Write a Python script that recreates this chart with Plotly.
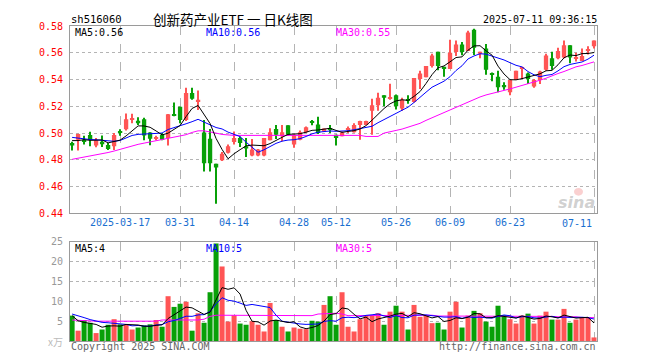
import plotly.graph_objects as go
import pandas as pd

# ---------------- data ----------------
opens = [0.4926, 0.4951, 0.4951, 0.4985, 0.4907, 0.4936, 0.4912, 0.4902, 0.5012, 0.5029,
         0.5098, 0.5093, 0.5103, 0.5005, 0.4963, 0.4985, 0.4963, 0.5142, 0.5196, 0.5098,
         0.5300, 0.5238, 0.5005, 0.4958, 0.4772, 0.4797, 0.4853, 0.4934, 0.4963, 0.4902,
         0.4833, 0.4833, 0.4833, 0.4946, 0.5030, 0.4976, 0.5059, 0.4914, 0.4951, 0.5007,
         0.5078, 0.5064, 0.5012, 0.5030, 0.4988, 0.4976, 0.5030, 0.5007, 0.5061, 0.5061,
         0.5167, 0.5208, 0.5282, 0.5262, 0.5282, 0.5184, 0.5247, 0.5233, 0.5404, 0.5417,
         0.5502, 0.5608, 0.5495, 0.5478, 0.5605, 0.5662, 0.5613, 0.5772, 0.5593, 0.5632,
         0.5443, 0.5421, 0.5360, 0.5306, 0.5397, 0.5483, 0.5446, 0.5348, 0.5397, 0.5473,
         0.5559, 0.5559, 0.5564, 0.5657, 0.5554, 0.5539, 0.5615, 0.5649]
highs = [0.4935, 0.4995, 0.4980, 0.5010, 0.4963, 0.4983, 0.4926, 0.5000, 0.5029, 0.5147,
         0.5145, 0.5118, 0.5115, 0.5007, 0.4980, 0.5000, 0.5142, 0.5228, 0.5196, 0.5338,
         0.5338, 0.5318, 0.5098, 0.5030, 0.4772, 0.4858, 0.4914, 0.5012, 0.4975, 0.4963,
         0.4956, 0.4882, 0.4963, 0.5037, 0.5061, 0.5061, 0.5059, 0.4990, 0.5020, 0.5049,
         0.5098, 0.5123, 0.5034, 0.5061, 0.4988, 0.5012, 0.5049, 0.5073, 0.5093, 0.5093,
         0.5257, 0.5301, 0.5282, 0.5368, 0.5289, 0.5265, 0.5282, 0.5412, 0.5466, 0.5502,
         0.5593, 0.5608, 0.5495, 0.5698, 0.5691, 0.5681, 0.5764, 0.5779, 0.5608, 0.5666,
         0.5453, 0.5466, 0.5380, 0.5397, 0.5466, 0.5495, 0.5453, 0.5404, 0.5466, 0.5593,
         0.5608, 0.5637, 0.5691, 0.5657, 0.5600, 0.5632, 0.5649, 0.5691]
lows = [0.4870, 0.4870, 0.4914, 0.4902, 0.4895, 0.4897, 0.4873, 0.4873, 0.4980, 0.5020,
        0.5073, 0.5060, 0.4946, 0.4909, 0.4946, 0.4946, 0.4907, 0.5125, 0.5073, 0.5090,
        0.5250, 0.5172, 0.4713, 0.4713, 0.4473, 0.4792, 0.4848, 0.4914, 0.4897, 0.4821,
        0.4828, 0.4828, 0.4828, 0.4946, 0.4956, 0.4939, 0.4980, 0.4890, 0.4946, 0.5000,
        0.5059, 0.4993, 0.5012, 0.5000, 0.4907, 0.4976, 0.5000, 0.5005, 0.4951, 0.5061,
        0.4988, 0.5167, 0.5200, 0.5250, 0.5176, 0.5167, 0.5220, 0.5228, 0.5330, 0.5417,
        0.5490, 0.5470, 0.5421, 0.5478, 0.5576, 0.5581, 0.5613, 0.5583, 0.5560, 0.5436,
        0.5387, 0.5306, 0.5323, 0.5282, 0.5397, 0.5404, 0.5367, 0.5338, 0.5367, 0.5466,
        0.5473, 0.5551, 0.5559, 0.5522, 0.5534, 0.5539, 0.5588, 0.5632]
closes = [0.4907, 0.4993, 0.4939, 0.4951, 0.4946, 0.4917, 0.4882, 0.4985, 0.5008, 0.5103,
          0.5100, 0.5073, 0.4983, 0.4958, 0.4966, 0.4951, 0.5140, 0.5127, 0.5098, 0.5300,
          0.5257, 0.5250, 0.4775, 0.4775, 0.4743, 0.4846, 0.4902, 0.4963, 0.4926, 0.4885,
          0.4877, 0.4877, 0.4963, 0.5007, 0.4988, 0.5007, 0.4988, 0.4988, 0.5007, 0.5044,
          0.5076, 0.5000, 0.5034, 0.5027, 0.4963, 0.5005, 0.5034, 0.5061, 0.5090, 0.5090,
          0.5208, 0.5265, 0.5265, 0.5265, 0.5200, 0.5250, 0.5243, 0.5412, 0.5446, 0.5502,
          0.5580, 0.5502, 0.5478, 0.5600, 0.5662, 0.5605, 0.5752, 0.5637, 0.5608, 0.5473,
          0.5440, 0.5343, 0.5343, 0.5397, 0.5466, 0.5486, 0.5404, 0.5397, 0.5460, 0.5580,
          0.5502, 0.5613, 0.5657, 0.5564, 0.5559, 0.5576, 0.5618, 0.5691]
volumes = [6.4, 2.6, 5.3, 4.6, 2.0, 2.9, 4.1, 5.5, 4.2, 4.2,
           2.9, 3.4, 3.9, 4.2, 5.3, 3.6, 11.3, 8.6, 9.4, 9.9,
           2.6, 7.0, 4.6, 12.3, 24.6, 18.8, 4.9, 6.5, 4.4, 4.1,
           5.0, 4.1, 2.4, 9.6, 5.3, 3.6, 2.4, 3.4, 3.1, 3.0,
           5.1, 4.9, 9.1, 11.3, 4.1, 12.3, 3.6, 2.4, 5.5, 6.4,
           6.5, 7.0, 4.1, 7.4, 8.9, 7.4, 2.9, 9.1, 6.1, 6.5,
           4.5, 4.6, 2.9, 7.4, 9.9, 3.4, 6.4, 7.6, 7.0, 4.9,
           3.6, 8.9, 6.5, 5.5, 4.4, 6.4, 6.9, 4.4, 6.4, 7.4,
           5.4, 5.4, 8.1, 4.6, 5.4, 5.9, 5.9, 0.9]

# moving-average values at the window start (depend on earlier sessions)
ma5_lead = [0.4944, 0.4944, 0.4951, 0.4946]
ma10_lead = [0.4968, 0.4962, 0.4958, 0.4952, 0.4950, 0.4945, 0.4940, 0.4939, 0.4945]
ma30 = [0.4804, 0.4812, 0.4820, 0.4828, 0.4836, 0.4845, 0.4855, 0.4866, 0.4878, 0.4893,
        0.4907, 0.4916, 0.4925, 0.4934, 0.4942, 0.4951, 0.4960, 0.4972, 0.4980, 0.4988,
        0.5005, 0.5017, 0.5017, 0.5010, 0.5000, 0.4990, 0.4985, 0.4983, 0.4983, 0.4983,
        0.4983, 0.4983, 0.4983, 0.4983, 0.4983, 0.4983, 0.4983, 0.4983, 0.4983, 0.4983,
        0.4983, 0.4983, 0.4983, 0.4983, 0.4983, 0.4983, 0.4983, 0.4983, 0.4983, 0.4975,
        0.4975, 0.4975, 0.5000, 0.5012, 0.5020, 0.5030, 0.5045, 0.5060, 0.5073, 0.5095,
        0.5115, 0.5135, 0.5155, 0.5176, 0.5195, 0.5215, 0.5235, 0.5250, 0.5270, 0.5285,
        0.5295, 0.5310, 0.5320, 0.5330, 0.5343, 0.5355, 0.5368, 0.5380, 0.5395, 0.5410,
        0.5430, 0.5445, 0.5460, 0.5480, 0.5495, 0.5505, 0.5520, 0.5532]
vol_ma5_lead = [6.4, 5.1, 4.7, 4.5]
vol_ma10_lead = [6.8, 6.4, 5.9, 5.4, 5.0, 4.7, 4.6, 4.5, 4.4]
vol_ma30 = [5.3, 5.2, 5.1, 5.0, 5.0, 5.0, 5.0, 5.0, 5.0, 5.0,
            5.0, 5.0, 5.0, 5.0, 5.0, 5.3, 5.3, 5.3, 5.3, 5.3,
            5.3, 5.3, 5.5, 6.2, 6.5, 6.5, 6.5, 6.5, 6.5, 6.5,
            6.4, 6.4, 6.4, 6.5, 6.5, 6.5, 6.5, 6.5, 6.4, 6.4,
            6.4, 6.8, 6.9, 7.0, 7.0, 6.8, 6.4, 6.4, 6.4, 6.4,
            6.4, 6.5, 6.5, 6.5, 6.5, 6.5, 6.5, 6.5, 6.5, 6.5,
            6.5, 6.3, 6.3, 6.3, 6.3, 6.3, 6.3, 6.3, 6.3, 6.3,
            6.3, 6.2, 6.2, 6.2, 6.2, 6.2, 6.2, 6.2, 6.2, 6.2,
            6.2, 6.1, 6.1, 6.1, 6.1, 5.9, 5.9, 5.9]

tick_pos = [8, 18, 27, 37, 44, 54, 63, 73, 87]
tick_labels = ["2025-03-17", "03-31", "04-14", "04-28", "05-12", "05-26", "06-09", "06-23", "07-11"]

code_text = "sh516060"
title_text = "创新药产业ETF 一 日K线图"
time_text = "2025-07-11 09:36:15"

# ---------------- derived ----------------
def moving(values, n, lead):
    out = pd.Series(values).rolling(n).mean().tolist()
    out[:n - 1] = lead
    return out

ma5 = moving(closes, 5, ma5_lead)
ma10 = moving(closes, 10, ma10_lead)
vma5 = moving(volumes, 5, vol_ma5_lead)
vma10 = moving(volumes, 10, vol_ma10_lead)

RED = "#ff5555"
GREEN = "#08a008"
idx = list(range(len(closes)))
up = [c >= o for o, c in zip(opens, closes)]
colors = [RED if u else GREEN for u in up]
body_base = [min(o, c) for o, c in zip(opens, closes)]
body_h = [max(abs(c - o), 0.0008) for o, c in zip(opens, closes)]
wick_h = [h - l for h, l in zip(highs, lows)]

MONO = "DejaVu Sans Mono"

fig = go.Figure()
fig.add_trace(go.Bar(x=idx, y=wick_h, base=lows, width=0.17, marker=dict(color=colors, line=dict(width=0)),
                     xaxis="x", yaxis="y", hoverinfo="skip"))
fig.add_trace(go.Bar(x=idx, y=body_h, base=body_base, width=0.72, marker=dict(color=colors, line=dict(width=0)),
                     xaxis="x", yaxis="y", hoverinfo="skip"))
for vals, col in [(ma30, "#ff00ff"), (ma10, "#0000ff"), (ma5, "#000000")]:
    fig.add_trace(go.Scatter(x=idx, y=vals, mode="lines", line=dict(color=col, width=1),
                             xaxis="x", yaxis="y", hoverinfo="skip"))

fig.add_trace(go.Bar(x=idx, y=volumes, width=0.84, marker=dict(color=colors, line=dict(width=0)),
                     xaxis="x2", yaxis="y2", hoverinfo="skip"))
for vals, col in [(vol_ma30, "#ff00ff"), (vma10, "#0000ff"), (vma5, "#000000")]:
    fig.add_trace(go.Scatter(x=idx, y=vals, mode="lines", line=dict(color=col, width=1),
                             xaxis="x2", yaxis="y2", hoverinfo="skip"))

# page coordinates (the page body adds an 8px offset)
OFF = 8
W, H = 660 - OFF, 360 - OFF
PL, PT, PR, PB = 70, 20, 597, 341          # plot area in page pixels
L, T = PL - OFF, PT - OFF
R, B = W - (PR - OFF), H - (PB - OFF)
PW, PH = PR - PL, PB - PT

def px(xp):
    return (xp - PL) / PW

def py(yp):
    return (PB - yp) / PH

xcommon = dict(range=[-0.35, 87.5], tickvals=tick_pos, showgrid=True, griddash="dash",
               gridcolor="#b4b4b4", gridwidth=1, showline=True, mirror=True, linecolor="#9a9a9a",
               linewidth=1, ticks="", zeroline=False, fixedrange=True)

axis_text = tick_labels[:-1] + [""]

fig.update_layout(
    width=W, height=H, margin=dict(l=L, r=R, t=T, b=B, pad=0),
    paper_bgcolor="white", plot_bgcolor="white", showlegend=False, barmode="overlay",
    xaxis=dict(**xcommon, anchor="y", ticktext=axis_text, showticklabels=True,
               tickfont=dict(family=MONO, size=10, color="#1a6fd0")),
    xaxis2=dict(**xcommon, anchor="y2", matches="x", showticklabels=False),
    yaxis=dict(domain=[py(211), 1], range=[0.44, 0.58], dtick=0.02, tick0=0.44, tickformat=".2f",
               showgrid=True, griddash="dot", gridcolor="#b4b4b4", showline=True, mirror=True,
               linecolor="#9a9a9a", linewidth=1, ticks="", zeroline=False, ticklabelstandoff=4,
               tickfont=dict(family=MONO, size=10, color="#ff0000"), anchor="x", fixedrange=True),
    yaxis2=dict(domain=[0, py(240)], range=[0, 25], tickvals=[5, 10, 15, 20, 25],
                showgrid=True, griddash="dot", gridcolor="#b4b4b4", showline=True, mirror=True,
                linecolor="#9a9a9a", linewidth=1, ticks="", zeroline=False, ticklabelstandoff=4,
                tickfont=dict(family=MONO, size=10, color="#999999"), anchor="x2", fixedrange=True),
)

def ann(text, x, y, color="#000", size=10, family=MONO, xanchor="left", **kw):
    fig.add_annotation(text=text, x=px(x), y=py(y), xref="paper", yref="paper", showarrow=False,
                       xanchor=xanchor, yanchor="middle", font=dict(family=family, size=size, color=color), **kw)

ann(code_text, 69, 13, size=10.5)
ann(title_text, 151, 13, size=13.5, family="Noto Sans CJK SC")
ann(time_text, 599, 13, size=10, xanchor="right")

ann(f"MA5:{ma5[-1]:.2f}", 73, 27)
ann(f"MA10:{ma10[-1]:.2f}", 204, 27, color="#0000ff")
ann(f"MA30:{ma30[-1]:.2f}", 334, 27, color="#ff00ff")

# last date label sits inside the frame, left of its gridline
ann(tick_labels[-1], 594, 221, color="#1a6fd0", xanchor="right")

ann(f"MA5:{int(vma5[-1])}", 73, 247)
ann(f"MA10:{int(vma10[-1])}", 204, 247, color="#0000ff")
ann(f"MA30:{int(vol_ma30[-1])}", 334, 247, color="#ff00ff")

ann("x万", 65, 341, color="#bbbbbb", size=10, family="Noto Sans CJK SC", xanchor="right")
ann("Copyright 2025 SINA.COM", 69, 347, color="#666666")
ann("http://finance.sina.com.cn", 598, 347, color="#666666", xanchor="right")

# sina watermark
ann("<b><i>sina</i></b>", 597, 200, color="rgba(150,150,150,0.45)", size=16, family="DejaVu Sans", xanchor="right")
fig.add_shape(type="circle", xref="paper", yref="paper", x0=px(574), x1=px(583), y0=py(193), y1=py(185),
              fillcolor="rgba(240,120,120,0.35)", line=dict(width=0), layer="above")

fig.write_html("out.html")
